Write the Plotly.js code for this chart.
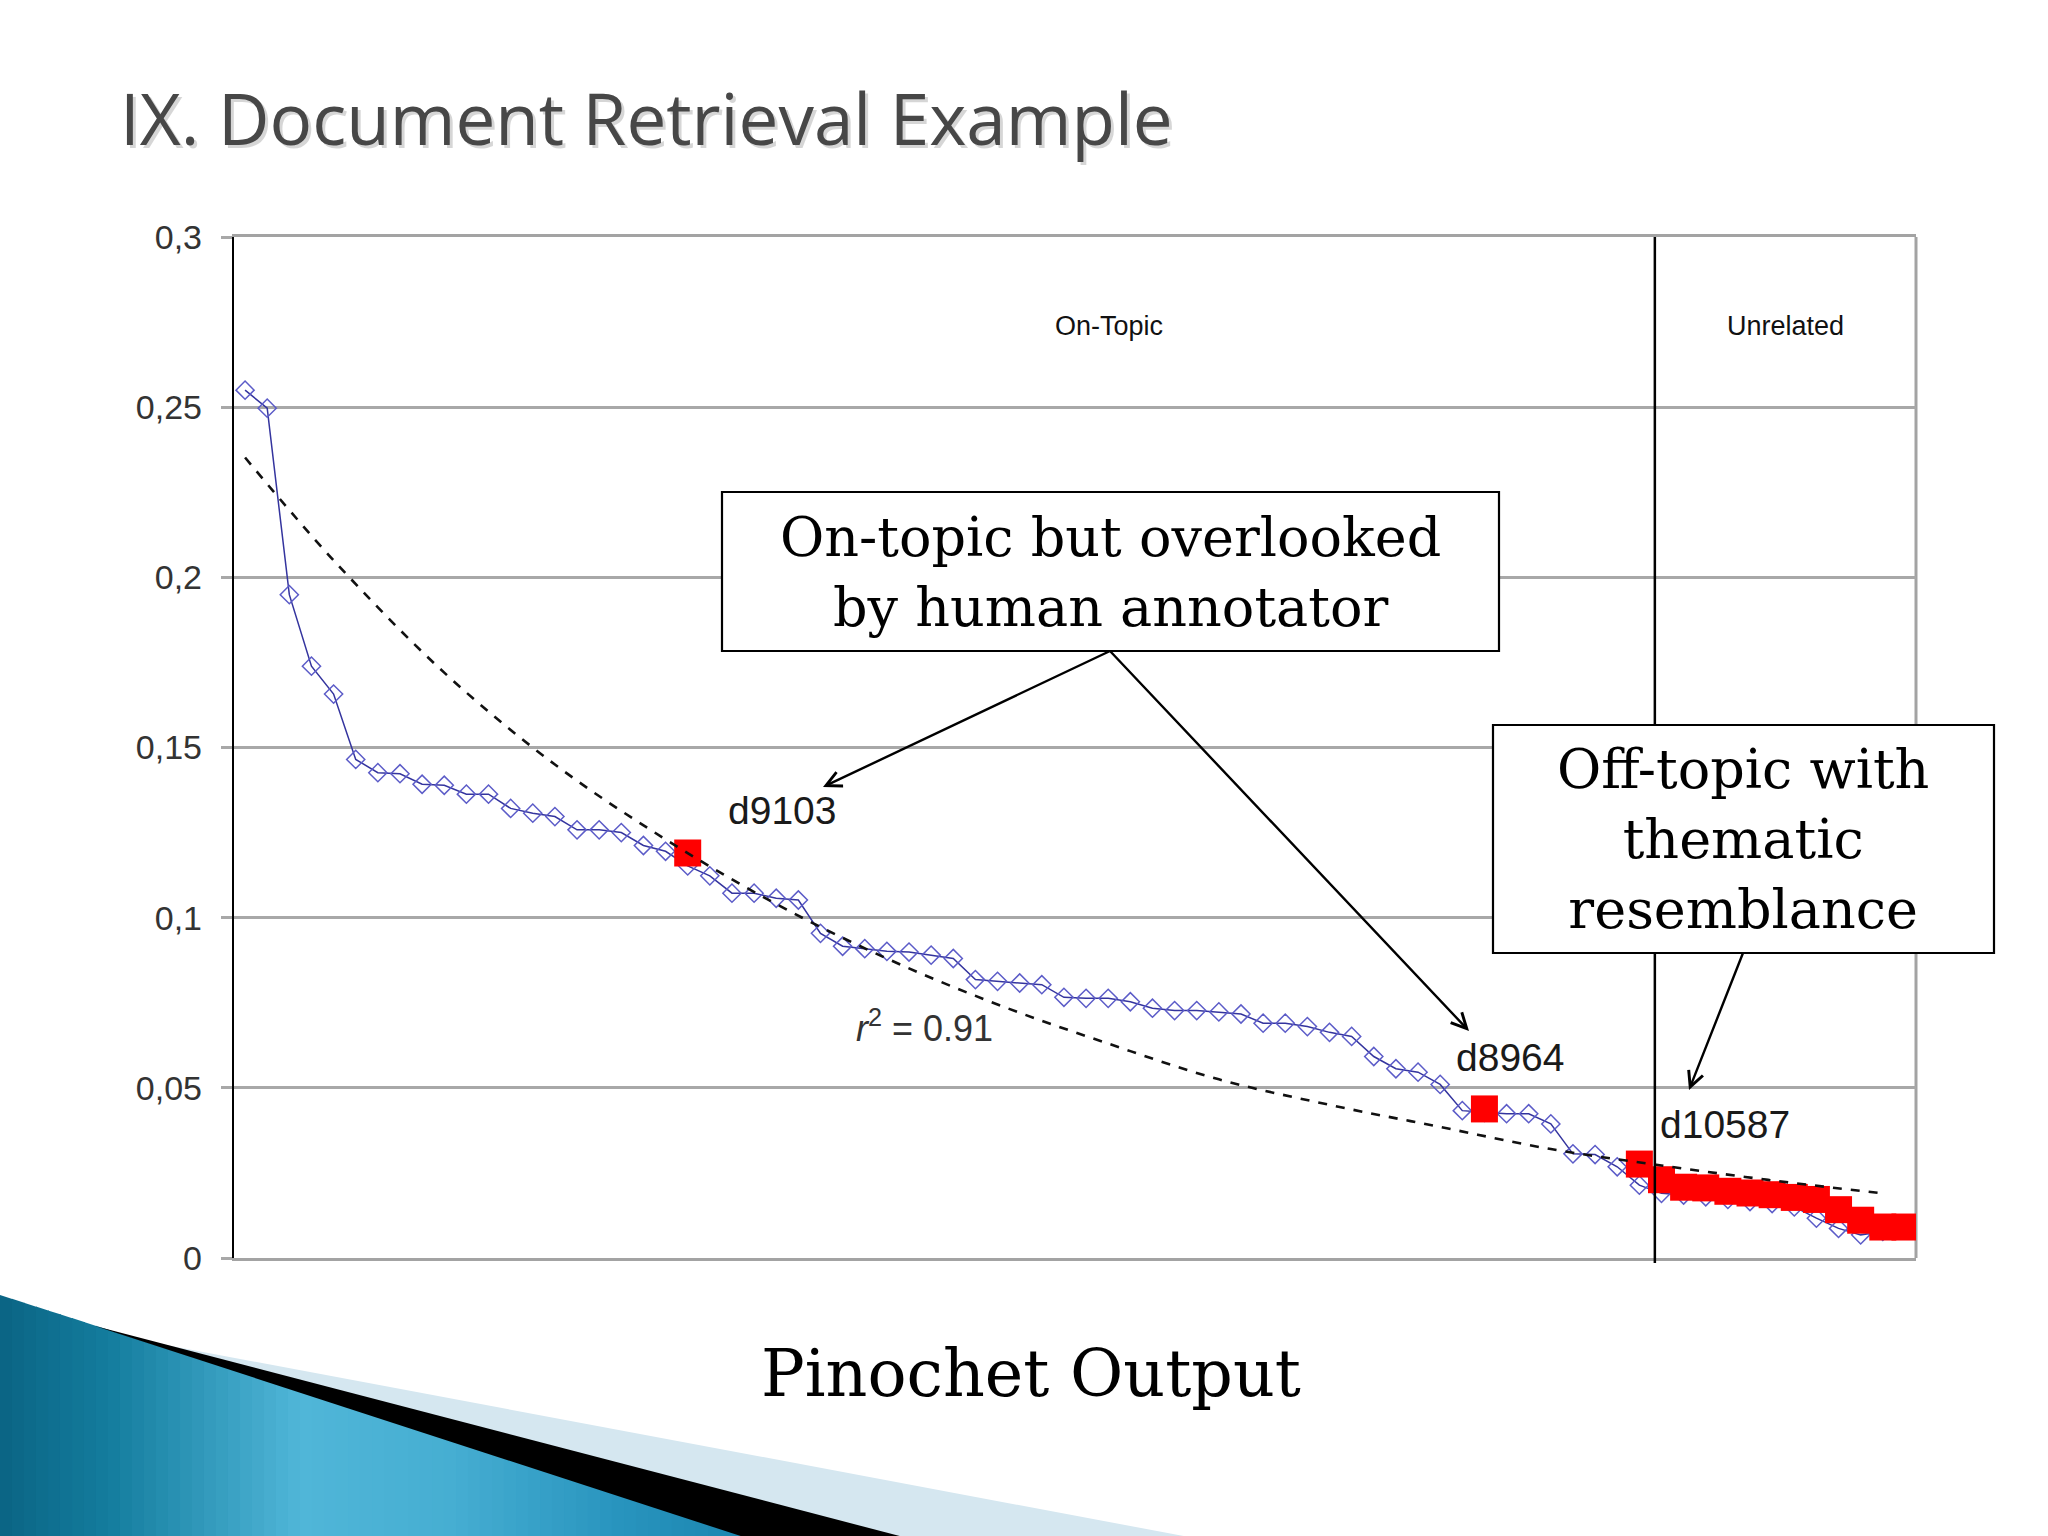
<!DOCTYPE html>
<html>
<head>
<meta charset="utf-8">
<script src="https://cdn.plot.ly/plotly-3.0.1.min.js"></script>
<style>
  html, body { margin: 0; padding: 0; background: #ffffff; }
  #chart { width: 2048px; height: 1536px; }
</style>
</head>
<body>
<div id="chart"></div>
<script>
// ---------------- DATA ----------------
// Similarity score of each retrieved document, ranked (diamond series)
const scores = [
  0.2550, 0.2497, 0.1949, 0.1739, 0.1657, 0.1465, 0.1426, 0.1423, 0.1392, 0.1389,
  0.1363, 0.1363, 0.1321, 0.1307, 0.1297, 0.1258, 0.1258, 0.1250, 0.1212, 0.1195,
  0.1152, 0.1123, 0.1072, 0.1072, 0.1057, 0.1052, 0.0954, 0.0916, 0.0909, 0.0901,
  0.0899, 0.0890, 0.0880, 0.0818, 0.0813, 0.0808, 0.0803, 0.0766, 0.0763, 0.0763,
  0.0753, 0.0734, 0.0727, 0.0727, 0.0723, 0.0717, 0.0690, 0.0690, 0.0680, 0.0663,
  0.0651, 0.0592, 0.0556, 0.0546, 0.0510, 0.0433, 0.0428, 0.0424, 0.0424, 0.0394,
  0.0306, 0.0304, 0.0268, 0.0214, 0.0190, 0.0185, 0.0180, 0.0172, 0.0166, 0.0160,
  0.0150, 0.0117, 0.0087, 0.0068, 0.0078
];
// Documents judged off-topic by the human annotator (red squares)
const offRanks  = [21, 57, 64, 65, 66, 67, 68, 69, 70, 71, 72, 73, 74, 75, 76];
const offScores = [0.1190, 0.0438, 0.0276, 0.0230, 0.0208, 0.0206, 0.0196, 0.0191,
                   0.0186, 0.0178, 0.0172, 0.0142, 0.0111, 0.0091, 0.0091];
// Trend line (dashed)
const trendRanks  = [1, 5, 10, 15, 20, 25, 30, 35, 40, 45, 50, 55, 60, 65, 70, 75];
const trendScores = [0.2352, 0.2050, 0.1720, 0.1450, 0.1230, 0.1040, 0.0880, 0.0745,
                     0.0630, 0.0525, 0.0450, 0.0385, 0.0320, 0.0272, 0.0228, 0.0190];
// Y tick values and labels
const yTickVals = [0, 0.05, 0.1, 0.15, 0.2, 0.25, 0.3];
const yTickText = ['0', '0,05', '0,1', '0,15', '0,2', '0,25', '0,3'];
// Region labels and document labels
const regionLabels = ['On-Topic', 'Unrelated'];
const docLabels = ['d9103', 'd8964', 'd10587'];
const totalDocs = 76;
const boundaryRank = 64.7;

// ---------------- LAYOUT HELPERS ----------------
const L = 234, R = 1916, T = 237, B = 1258;
const W = R - L, H = B - T;
const px = x => (x - L) / W;
const py = y => (B - y) / H;

const ranks = scores.map((_, i) => i + 1);

const traces = [
  {
    x: ranks, y: scores, type: 'scatter', mode: 'lines+markers',
    line: { color: '#34349e', width: 1.5 },
    marker: { symbol: 'diamond-open', size: 14, color: '#5c5cc8', line: { width: 1.5, color: '#5c5cc8' } },
    hoverinfo: 'x+y', showlegend: false
  },
  {
    x: offRanks, y: offScores, type: 'scatter', mode: 'markers',
    marker: { symbol: 'square', size: 27, color: '#ff0000', line: { width: 0 } },
    hoverinfo: 'x+y', showlegend: false
  },
  {
    x: trendRanks, y: trendScores, type: 'scatter', mode: 'lines',
    line: { color: '#111111', width: 2.6, dash: 'dash', shape: 'spline', smoothing: 1 },
    hoverinfo: 'skip', showlegend: false
  }
];

// ---------------- bottom-left decoration (slide theme) ----------------
function poly(pts) {
  return 'M ' + pts.map(p => px(p[0]).toFixed(5) + ',' + py(p[1]).toFixed(5)).join(' L ') + ' Z';
}
const edgeY = x => 1295 + 0.321 * x;
const gradStops = [[0, [10, 100, 132]], [110, [20, 125, 158]], [300, [80, 182, 216]],
                   [450, [70, 174, 210]], [620, [40, 148, 190]], [760, [26, 132, 174]]];
function gradColor(x) {
  for (let i = 0; i < gradStops.length - 1; i++) {
    const a = gradStops[i], b = gradStops[i + 1];
    if (x <= b[0]) {
      const t = (x - a[0]) / (b[0] - a[0]);
      const c = a[1].map((v, k) => Math.round(v + (b[1][k] - v) * t));
      return 'rgb(' + c.join(',') + ')';
    }
  }
  return 'rgb(' + gradStops[gradStops.length - 1][1].join(',') + ')';
}
const shapes = [];
const stripW = 12;
for (let x0 = 0; x0 < 760; x0 += stripW) {
  const x1 = Math.min(x0 + stripW + 1, 762);
  shapes.push({
    type: 'path', xref: 'paper', yref: 'paper', layer: 'below',
    path: poly([[x0, edgeY(x0)], [x1, edgeY(x1)], [x1, 1540], [x0, 1540]]),
    fillcolor: gradColor(x0 + stripW / 2), line: { width: 0 }
  });
}
shapes.push({
  type: 'path', xref: 'paper', yref: 'paper', layer: 'below',
  path: poly([[150, 1342], [1205, 1540], [910, 1540]]),
  fillcolor: '#d5e7f0', line: { width: 0 }
});
shapes.push({
  type: 'path', xref: 'paper', yref: 'paper', layer: 'below',
  path: poly([[95, 1326], [915, 1540], [753, 1540]]),
  fillcolor: '#000000', line: { width: 0 }
});
// right border of the plot frame
shapes.push({ type: 'line', xref: 'paper', yref: 'paper', x0: 1, x1: 1, y0: 0, y1: 1,
  line: { color: '#a3a3a3', width: 3 }, layer: 'below' });
// On-topic / Unrelated separator
shapes.push({ type: 'line', xref: 'x', yref: 'paper', x0: boundaryRank, x1: boundaryRank,
  y0: -0.005, y1: 1, line: { color: '#000000', width: 2.5 }, layer: 'above' });
// annotation boxes
shapes.push({ type: 'rect', xref: 'paper', yref: 'paper', layer: 'above',
  x0: px(722), x1: px(1499), y0: py(651), y1: py(492),
  fillcolor: '#ffffff', line: { color: '#000000', width: 2.2 } });
shapes.push({ type: 'rect', xref: 'paper', yref: 'paper', layer: 'above',
  x0: px(1493), x1: px(1994), y0: py(953), y1: py(725),
  fillcolor: '#ffffff', line: { color: '#000000', width: 2.2 } });

function label(text, x, y, size, family, color, extra) {
  return Object.assign({
    text: text, x: px(x), y: py(y), xref: 'paper', yref: 'paper',
    xanchor: 'center', yanchor: 'middle', showarrow: false,
    font: { family: family, size: size, color: color }
  }, extra || {});
}
function arrow(tipX, tipY, tailX, tailY) {
  return {
    text: '', x: px(tipX), y: py(tipY), xref: 'paper', yref: 'paper',
    ax: tailX - tipX, ay: tailY - tipY, axref: 'pixel', ayref: 'pixel',
    showarrow: true, arrowhead: 5, arrowsize: 1.25, arrowwidth: 2.4, arrowcolor: '#000000',
    standoff: 0, startstandoff: 0, borderpad: 0
  };
}
const SANS = 'Liberation Sans, Arial, sans-serif';
const SERIF = 'DejaVu Serif, serif';
const annotations = [
  label('IX. Document Retrieval Example', 121, 120, 71, 'Open Sans, sans-serif', 'rgba(0,0,0,0.16)', { xanchor: 'left' }),
  label('IX. Document Retrieval Example', 118, 117, 71, 'Open Sans, sans-serif', '#474747', { xanchor: 'left' }),
  label(regionLabels[0], 1109, 326, 27, SANS, '#111111'),
  label(regionLabels[1], 1785, 326, 27, SANS, '#111111'),
  label(docLabels[0], 782, 810, 39, SANS, '#1a1a1a'),
  label(docLabels[1], 1510, 1057, 39, SANS, '#1a1a1a'),
  label(docLabels[2], 1725, 1124, 39, SANS, '#1a1a1a'),
  label('<i>r</i><sup>2</sup> = 0.91', 924, 1026, 36, SANS, '#333333'),
  label('On-topic but overlooked<br>by human annotator', 1110, 572, 54, SERIF, '#000000'),
  label('Off-topic with<br>thematic<br>resemblance', 1743, 839, 54, SERIF, '#000000'),
  label('Pinochet Output', 1031, 1373, 65, SERIF, '#000000'),
  arrow(823, 787, 1110, 651),
  arrow(1469, 1031, 1110, 651),
  arrow(1689, 1090, 1743, 953)
];

const layout = {
  width: 2048, height: 1536,
  margin: { l: L, r: 2048 - R, t: T, b: 1536 - B, pad: 0 },
  paper_bgcolor: '#ffffff', plot_bgcolor: '#ffffff',
  showlegend: false,
  xaxis: {
    range: [0.5, totalDocs + 0.5], showgrid: false, zeroline: false,
    showticklabels: false, ticks: '',
    showline: true, mirror: true, linecolor: '#a3a3a3', linewidth: 3
  },
  yaxis: {
    range: [0, 0.3], tickvals: yTickVals, ticktext: yTickText,
    showgrid: true, gridcolor: '#a8a8a8', gridwidth: 3, zeroline: false,
    showline: true, linecolor: '#000000', linewidth: 2.2,
    ticks: 'outside', ticklen: 11, tickwidth: 3, tickcolor: '#a8a8a8',
    ticklabelstandoff: 12,
    tickfont: { family: SANS, size: 34, color: '#333333' }
  },
  shapes: shapes,
  annotations: annotations
};

Plotly.newPlot('chart', traces, layout, { staticPlot: true, displayModeBar: false });
</script>
</body>
</html>
